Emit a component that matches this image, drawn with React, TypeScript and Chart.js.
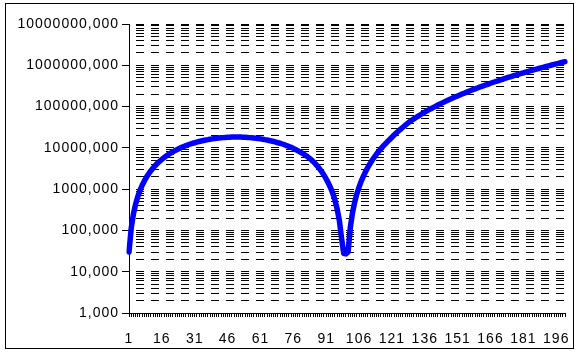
import React, { useEffect, useRef } from 'react';
import { Chart, registerables } from 'chart.js';

Chart.register(...registerables);

// Category axis: 1 … 200, a label every 15th category
const POINT_COUNT = 200;
const LABEL_STEP = 15;
const categories: string[] = Array.from({ length: POINT_COUNT }, (_, i) => String(i + 1));

// Series values, categories 1–100 (first lobe and the dip)
const lobeValues = [
  30, 112, 247, 430, 658, 928, 1240, 1580, 1960, 2360,
  2800, 3250, 3730, 4230, 4740, 5270, 5810, 6360, 6910, 7470,
  8030, 8590, 9150, 9700, 10300, 10800, 11300, 11900, 12400, 12900,
  13300, 13800, 14300, 14700, 15100, 15500, 15800, 16200, 16500, 16800,
  17100, 17300, 17500, 17700, 17900, 18000, 18100, 18200, 18200, 18200,
  18200, 18200, 18100, 18000, 17900, 17700, 17500, 17300, 17100, 16800,
  16500, 16200, 15800, 15500, 15100, 14700, 14300, 13800, 13300, 12900,
  12400, 11900, 11300, 10800, 10300, 9700, 9150, 8590, 8030, 7470,
  6910, 6360, 5810, 5270, 4700, 4150, 3620, 3100, 2630, 2180,
  1760, 1400, 1080, 790, 540, 330, 175, 65, 28, 27,
];

// Series values, categories 101–200 (rising branch)
const riseValues = [
  30, 116, 265, 481, 766, 1120, 1560, 2070, 2670, 3360,
  4140, 5020, 5990, 7080, 8270, 9570, 11000, 12500, 14200, 16000,
  18100, 20400, 22900, 25600, 28500, 31600, 34900, 38500, 42400, 46500,
  50400, 54500, 58900, 63400, 68200, 73200, 78500, 84000, 89800, 95800,
  102000, 109000, 116000, 123000, 130000, 138000, 146000, 154000, 163000, 172000,
  181000, 191000, 201000, 211000, 222000, 233000, 245000, 257000, 269000, 282000,
  295000, 308000, 322000, 337000, 351000, 367000, 383000, 399000, 415000, 433000,
  450000, 469000, 487000, 507000, 526000, 547000, 568000, 589000, 611000, 634000,
  657000, 681000, 705000, 730000, 756000, 782000, 809000, 836000, 865000, 893000,
  923000, 953000, 984000, 1016000, 1049000, 1082000, 1116000, 1150000, 1186000, 1222000,
];

const seriesValues = [...lobeValues, ...riseValues];

// Logarithmic value axis: decades and the minor steps inside each decade
const decades = [1, 10, 100, 1000, 10000, 100000, 1000000, 10000000];
const minorSteps = [1, 2, 3, 4, 5, 6, 7, 8, 9];
const DECIMAL_SUFFIX = ',000';

const FONT_FAMILY = "'Liberation Sans', Arial, Helvetica, sans-serif";

// Slightly wider tick text
const textSpacing = {
  id: 'textSpacing',
  beforeUpdate(chart: any) {
    chart.ctx.letterSpacing = '1px';
  },
  beforeDraw(chart: any) {
    chart.ctx.letterSpacing = '1px';
  },
};

// Thin frame around the whole chart
const outerFrame = {
  id: 'outerFrame',
  afterDraw(chart: any) {
    const ctx = chart.ctx;
    ctx.save();
    ctx.setLineDash([]);
    ctx.strokeStyle = '#000';
    ctx.lineWidth = 1;
    ctx.strokeRect(5.5, 3.5, 568, 345);
    ctx.restore();
  },
};

export default function App() {
  const canvasRef = useRef<HTMLCanvasElement>(null);

  useEffect(() => {
    const canvas = canvasRef.current;
    if (!canvas) return;

    const chart = new Chart(canvas, {
      type: 'line',
      data: {
        labels: categories,
        datasets: [
          {
            data: seriesValues,
            borderColor: '#0000ff',
            borderWidth: 5.5,
            pointRadius: 0,
            pointHoverRadius: 0,
            fill: false,
            tension: 0,
            borderCapStyle: 'round',
            borderJoinStyle: 'round',
          },
        ],
      },
      options: {
        responsive: false,
        animation: false,
        events: [],
        layout: { padding: { top: 24, right: 13, left: 0, bottom: 0 } },
        plugins: {
          legend: { display: false },
          tooltip: { enabled: false },
          title: { display: false },
        },
        scales: {
          x: {
            type: 'category',
            offset: false,
            grid: {
              display: true,
              drawOnChartArea: false,
              drawTicks: true,
              tickLength: 4,
              tickColor: '#000',
              tickWidth: 1,
            },
            border: { display: true, color: '#000', width: 1 },
            ticks: {
              autoSkip: false,
              maxRotation: 0,
              minRotation: 0,
              padding: 14,
              color: '#000',
              font: { family: FONT_FAMILY, size: 14 },
              callback: (_v: any, i: number) => (i % LABEL_STEP === 0 ? categories[i] : ''),
            },
            afterFit: (scale: any) => {
              scale.height = 40;
            },
          },
          y: {
            type: 'logarithmic',
            min: decades[0],
            max: decades[decades.length - 1],
            grid: {
              display: true,
              drawOnChartArea: true,
              drawTicks: true,
              color: '#000',
              lineWidth: 1,
              tickLength: 7,
              tickWidth: 1,
              tickColor: (ctx: any) => (ctx.tick && ctx.tick.major ? '#000' : 'rgba(0,0,0,0)'),
            },
            border: { display: true, color: '#000', width: 1, dash: [8, 7], dashOffset: 9 },
            ticks: {
              autoSkip: false,
              padding: 3,
              color: '#000',
              font: { family: FONT_FAMILY, size: 14 },
              callback: (value: any, index: number, ticks: any[]) =>
                ticks[index] && ticks[index].major ? `${value}${DECIMAL_SUFFIX}` : '',
            },
            afterBuildTicks: (scale: any) => {
              const ticks: { value: number; major: boolean }[] = [];
              decades.forEach((d, i) => {
                if (i === decades.length - 1) {
                  ticks.push({ value: d, major: true });
                  return;
                }
                minorSteps.forEach((m) => ticks.push({ value: d * m, major: m === 1 }));
              });
              scale.ticks = ticks;
            },
            afterFit: (scale: any) => {
              scale.width = 129;
            },
          },
        },
      },
      plugins: [textSpacing, outerFrame],
    } as any);

    return () => chart.destroy();
  }, []);

  return (
    <div style={{ position: 'fixed', left: 0, top: 0, width: 579, height: 353, background: '#fff' }}>
      <canvas ref={canvasRef} width={579} height={353} style={{ display: 'block', width: 579, height: 353 }} />
    </div>
  );
}
